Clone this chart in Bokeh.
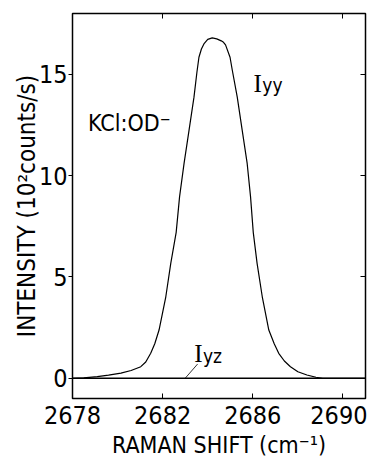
from bokeh.plotting import figure
from bokeh.models import Label, LinearAxis, FixedTicker, Range1d, Title
from bokeh.embed import file_html
from bokeh.resources import INLINE

# ---- data ----
iyy_shift = [2678.0, 2678.5, 2679.1, 2679.6, 2680.15, 2680.6, 2681.03, 2681.25,
             2681.47, 2681.65, 2681.84, 2682.14, 2682.36, 2682.6, 2682.75, 2682.95,
             2683.17, 2683.39, 2683.52, 2683.61, 2683.72, 2683.83, 2684.0, 2684.2,
             2684.4, 2684.6, 2684.7, 2684.79, 2684.99, 2685.09, 2685.31, 2685.53,
             2685.75, 2685.9, 2686.02, 2686.19, 2686.42, 2686.71, 2686.95, 2687.15,
             2687.4, 2687.67, 2688.0, 2688.4, 2688.8, 2689.1, 2690.0, 2691.0]
iyy_intensity = [0.0, 0.02, 0.08, 0.15, 0.25, 0.38, 0.57, 0.8,
                 1.23, 1.7, 2.38, 4.02, 5.67, 7.2, 8.95, 10.6,
                 12.23, 13.87, 15.1, 15.84, 16.25, 16.5, 16.72, 16.8,
                 16.75, 16.65, 16.58, 16.45, 15.84, 15.2, 13.87, 12.23,
                 10.6, 8.95, 7.2, 5.67, 4.02, 2.38, 1.7, 1.23,
                 0.85, 0.57, 0.32, 0.16, 0.05, 0.0, 0.0, 0.0]
iyz_shift = [2678.0, 2691.0]
iyz_intensity = [0.0, 0.0]
leader_shift = [2683.0, 2683.55]
leader_intensity = [0.0, 0.7]

x_ticks = [2678, 2682, 2686, 2690]
y_ticks = [0, 5, 10, 15]
x_range = (2678, 2691)
y_range = (-1, 18)

FONT = "DejaVu Sans Condensed, Liberation Sans, sans-serif"
SERIF = "Liberation Serif"

p = figure(width=367, height=460, output_backend="svg", toolbar_location=None,
           x_range=Range1d(*x_range), y_range=Range1d(*y_range),
           min_border_left=72, min_border_right=2, min_border_top=13,
           min_border_bottom=61)
p.grid.visible = False
p.outline_line_color = "black"
p.outline_line_width = 1.5
p.background_fill_color = "white"
p.border_fill_color = "white"

# bottom axis
xa = p.xaxis[0]
xa.ticker = FixedTicker(ticks=x_ticks)
xa.minor_tick_line_color = None
xa.major_tick_in = 5
xa.major_tick_out = 0
xa.major_tick_line_color = "black"
xa.axis_line_color = None
xa.major_label_text_font = FONT
xa.major_label_text_font_size = "25px"
xa.major_label_text_color = "black"
xa.major_label_standoff = 7
xa.axis_label = "RAMAN SHIFT (cm\u207b\u00b9)"
xa.axis_label_text_font = FONT
xa.axis_label_text_font_size = "23px"
xa.axis_label_text_font_style = "normal"
xa.axis_label_text_color = "black"
xa.axis_label_standoff = 5

# left axis
ya = p.yaxis[0]
ya.ticker = FixedTicker(ticks=y_ticks)
ya.minor_tick_line_color = None
ya.major_tick_in = 0
ya.major_tick_out = 4
ya.major_tick_line_color = "black"
ya.axis_line_color = None
ya.major_label_text_font = FONT
ya.major_label_text_font_size = "25px"
ya.major_label_text_color = "black"
ya.major_label_standoff = 1

# top and right axes (ticks only, empty labels)
top = LinearAxis(ticker=FixedTicker(ticks=x_ticks),
                 major_label_overrides={t: "" for t in x_ticks},
                 minor_tick_line_color=None, major_tick_in=5, major_tick_out=0,
                 major_tick_line_color="black", axis_line_color=None,
                 major_label_standoff=0)
right = LinearAxis(ticker=FixedTicker(ticks=y_ticks),
                   major_label_overrides={t: "" for t in y_ticks},
                   minor_tick_line_color=None, major_tick_in=5, major_tick_out=0,
                   major_tick_line_color="black", axis_line_color=None,
                   major_label_standoff=0)
p.add_layout(top, "above")
p.add_layout(right, "right")

# curves
p.line(iyz_shift, iyz_intensity, line_color="black", line_width=1.6)
p.line(iyy_shift, iyy_intensity, line_color="black", line_width=1.2)
p.line(leader_shift, leader_intensity, line_color="black", line_width=0.8)

# y-axis label as a left title, shifted down a little
p.add_layout(Title(text="INTENSITY (10\u00b2counts/s)", align="center", offset=-20,
                   text_font=FONT, text_font_size="24px", text_font_style="normal",
                   text_color="black", standoff=-10), "left")

# annotations
p.add_layout(Label(x=2678.69, y=12.6, text="KCl:OD\u207b", text_font=FONT,
                   text_font_size="23px", text_color="black", text_baseline="alphabetic"))
p.add_layout(Label(x=2686.03, y=14.55, text="I", text_font=SERIF,
                   text_font_size="25px", text_color="black", text_baseline="alphabetic"))
p.add_layout(Label(x=2686.42, y=14.45, text="yy", text_font=FONT,
                   text_font_size="19px", text_color="black", text_baseline="alphabetic"))
p.add_layout(Label(x=2683.4, y=1.2, text="I", text_font=SERIF,
                   text_font_size="25px", text_color="black", text_baseline="alphabetic"))
p.add_layout(Label(x=2683.79, y=1.1, text="yz", text_font=FONT,
                   text_font_size="19px", text_color="black", text_baseline="alphabetic"))

open("out.html", "w").write(file_html(p, INLINE))
